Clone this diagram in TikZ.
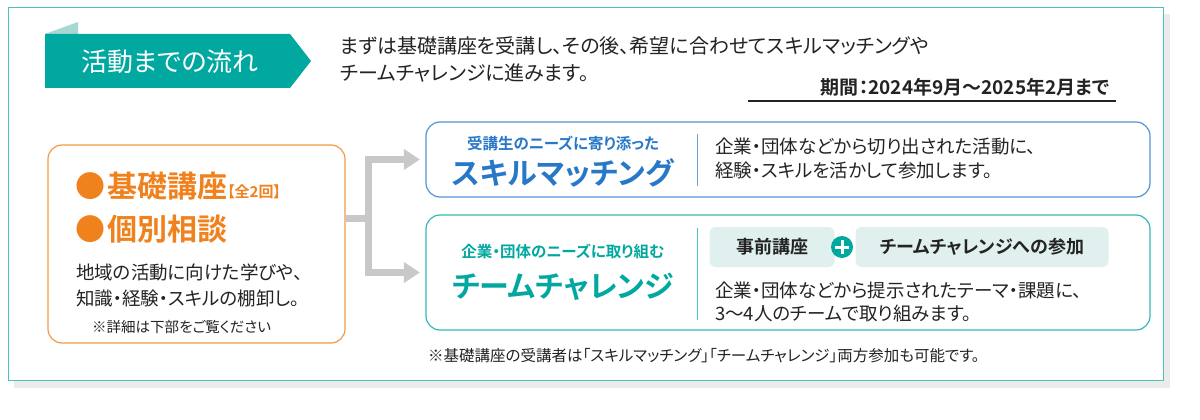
\documentclass[tikz,border=0pt]{standalone}
\usepackage{fontspec}
\setmainfont{Noto Sans CJK JP}[BoldFont={Noto Sans CJK JP Bold},RawFeature=+palt]
\usetikzlibrary{positioning,arrows.meta,shapes.geometric}
\definecolor{teal_main}{RGB}{0,168,160}
\definecolor{teal_light}{RGB}{168,216,212}
\definecolor{pill_fill}{RGB}{224,240,238}
\definecolor{blue_main}{RGB}{40,120,200}
\definecolor{orange_main}{RGB}{240,130,30}
\definecolor{arrow_gray}{RGB}{200,200,200}
\definecolor{text_dark}{RGB}{35,35,35}
\begin{document}
\begin{tikzpicture}[x=1pt,y=-1pt,font=\fontsize{20}{24}\selectfont,text=text_dark]
    \tikzstyle{panel}=[draw, rounded corners=14pt, line width=1.2pt, fill=white]
    \tikzstyle{pill}=[fill=pill_fill, rounded corners=6pt, inner sep=0pt]
    \tikzstyle{body}=[anchor=west, inner sep=0pt, font=\fontsize{18.5}{22}\selectfont]
    \tikzstyle{big}=[inner sep=0pt, font=\bfseries\fontsize{30}{34}\selectfont]
    \tikzstyle{sub}=[inner sep=0pt, font=\bfseries\fontsize{15.5}{18}\selectfont]

    \useasboundingbox (0,0) rectangle (1200,420);
    % frame and shadow
    \fill[black!8] (14,14) rectangle (1170,388);
    \draw[teal_main!70, fill=white, line width=1pt] (8,8) rectangle (1163,380);

    % banner
    \fill[teal_light] (45,34) -- (78,22) -- (78,34) -- cycle;
    \fill[teal_main] (45,34) -- (290,34) -- (311,61) -- (290,88) -- (45,88) -- cycle;
    \node[text=white, inner sep=0pt, font=\fontsize{26}{30}\selectfont] (title) at (170,62) {活動までの流れ};

    \node[anchor=west, inner sep=0pt] (lead1) at (340,46) {まずは基礎講座を受講し、その後、希望に合わせてスキルマッチングや};
    \node[anchor=west, inner sep=0pt] (lead2) at (340,73) {チームチャレンジに進みます。};
    \node[anchor=east, inner sep=0pt, font=\bfseries\fontsize{19}{22}\selectfont] (term) at (1110,87) {期間：2024年9月～2025年2月まで};
    \draw[line width=1.6pt, text_dark] (748,101) -- (1116,101);

    % left box
    \draw[panel, draw=orange_main!80] (48,145) rectangle (345,343);
    \node (left) at (196.5,244) [minimum width=297pt, minimum height=198pt] {};
    \node[anchor=west, inner sep=0pt, text=orange_main, font=\bfseries\fontsize{30}{34}\selectfont] (kiso) at (75,186) {●\hspace{2pt}基礎講座\fontsize{15}{18}\selectfont【全2回】};
    \node[anchor=west, inner sep=0pt, text=orange_main, font=\bfseries\fontsize{30}{34}\selectfont] (kobetsu) at (75,229) {●\hspace{2pt}個別相談};
    \node[body] (l1) at (76,272) {地域の活動に向けた学びや、};
    \node[body] (l2) at (76,298) {知識・経験・スキルの棚卸し。};
    \node[body, font=\fontsize{14.5}{17}\selectfont] (l3) at (92,327) {※詳細は下部をご覧ください};

    % right boxes
    \draw[panel, draw=blue_main!80] (426,122) rectangle (1150,197);
    \node (skill) at (788,159.5) [minimum width=724pt, minimum height=75pt] {};
    \node[sub, text=blue_main] (skillsub) at (563,143) {受講生のニーズに寄り添った};
    \node[big, text=blue_main] (skillbig) at (563,173) {スキルマッチング};
    \draw[blue_main!70, line width=1pt] (697,134) -- (697,186);
    \node[body] (s1) at (715,146) {企業・団体などから切り出された活動に、};
    \node[body] (s2) at (715,171) {経験・スキルを活かして参加します。};

    \draw[panel, draw=teal_main!80] (426,215) rectangle (1150,330);
    \node (team) at (788,272.5) [minimum width=724pt, minimum height=115pt] {};
    \node[sub, text=teal_main] (teamsub) at (563,251) {企業・団体のニーズに取り組む};
    \node[big, text=teal_main] (teambig) at (563,287) {チームチャレンジ};
    \draw[teal_main!70, line width=1pt] (697,228) -- (697,320);
    \node[pill, minimum width=125pt, minimum height=40pt, font=\bfseries\fontsize{18}{22}\selectfont] (pre) at (772,247) {事前講座};
    \node[pill, minimum width=253pt, minimum height=40pt, font=\bfseries\fontsize{18}{22}\selectfont] (join) at (982,247) {チームチャレンジへの参加};
    \node[circle, fill=teal_main, minimum size=22pt, inner sep=0pt] (plus) at (842,247) {};
    \draw[white, line width=3pt] (835,247) -- (849,247) (842,240) -- (842,254);
    \node[body] (t1) at (715,290) {企業・団体などから提示されたテーマ・課題に、};
    \node[body] (t2) at (715,313) {3～4人のチームで取り組みます。};

    % connectors
    \coordinate (split) at (368,218);
    \draw[arrow_gray, line width=7pt, -{Triangle[length=16pt,width=20pt]}, shorten >=6pt]
      (left.east |- split) -- (split) |- (skill.west);
    \draw[arrow_gray, line width=7pt, -{Triangle[length=16pt,width=20pt]}, shorten >=6pt]
      (split) |- (team.west);

    \node[anchor=west, inner sep=0pt, font=\fontsize{15.5}{18}\selectfont] (note) at (428,356) {※基礎講座の受講者は「スキルマッチング」「チームチャレンジ」両方参加も可能です。};
\end{tikzpicture}
\end{document}
